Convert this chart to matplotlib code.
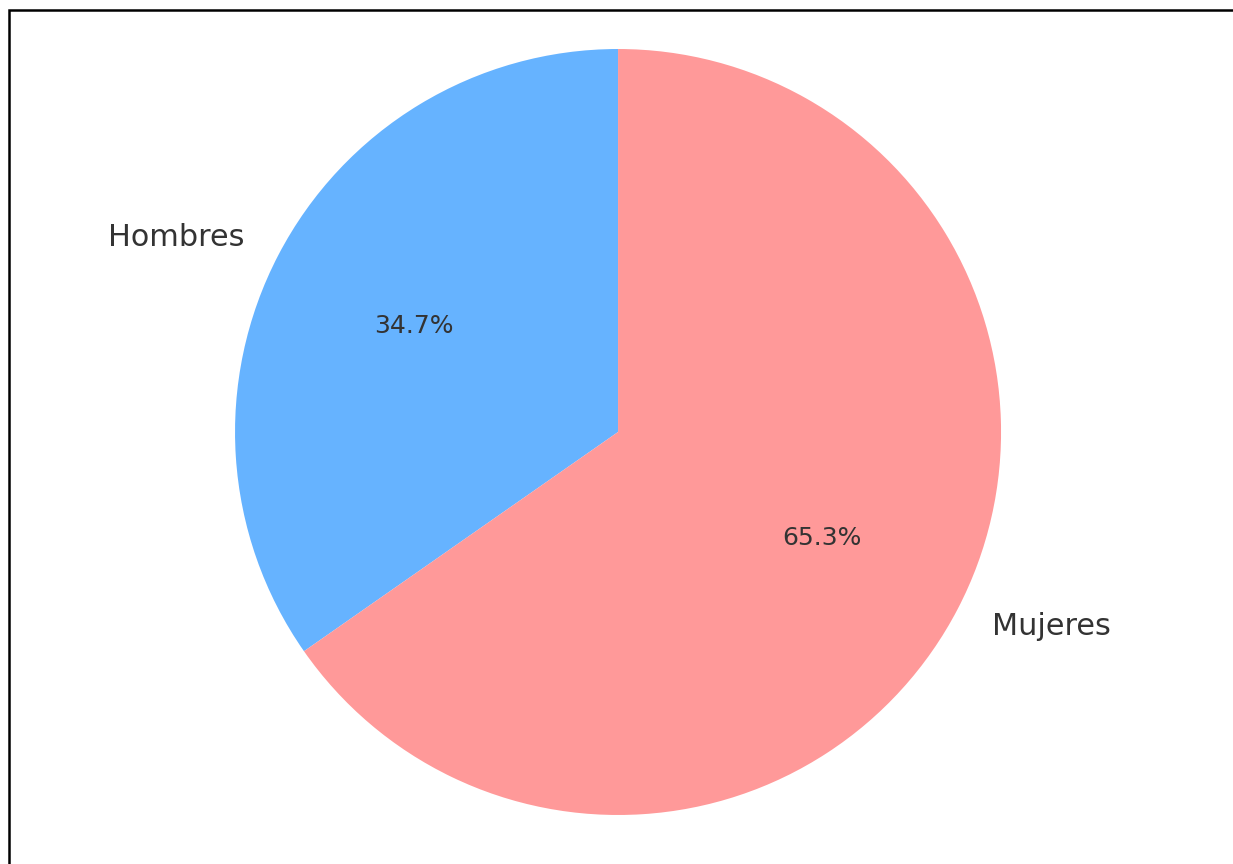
import matplotlib.pyplot as plt
from matplotlib.patches import Rectangle

labels = ['Hombres', 'Mujeres']
values = [34.7, 65.3]
colors = ['#66b3ff', '#ff9999']

fig = plt.figure(figsize=(12.33, 8.64), dpi=100)
ax = fig.add_axes([0.0353, 0.0124, 0.9319, 0.9752])

wedges, texts, autotexts = ax.pie(values, labels=labels, colors=colors,
                                  autopct='%1.1f%%', startangle=90,
                                  textprops={'color': '#333333'})
for t in texts:
    t.set_fontsize(21.8)
for t in autotexts:
    t.set_fontsize(18)

ax.set_aspect('auto')
ax.set_xlim(-1.5, 1.5)
ax.set_ylim(-1.1, 1.1)

# border around the figure (cut off on right/bottom like the original)
fig.patches.append(Rectangle((9 / 1233, -0.1), 2, 1 - 10 / 864 + 0.1,
                             transform=fig.transFigure, fill=False,
                             edgecolor='black', linewidth=1.8))

fig.savefig('out.png', dpi=100)
